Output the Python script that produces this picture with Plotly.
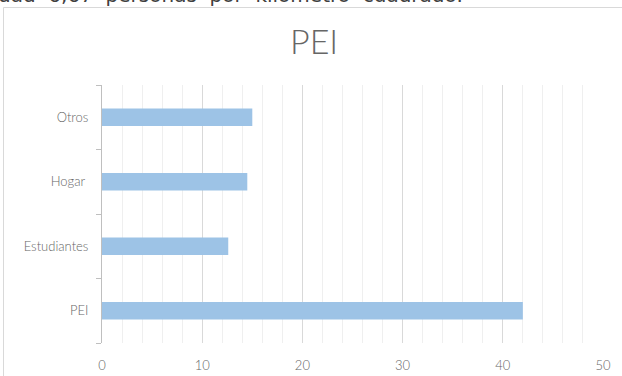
import plotly.graph_objects as go

# Categories (bottom to top) and their values
categories = ["PEI", "Estudiantes", "Hogar ", "Otros"]
values = [42.0, 12.6, 14.5, 15.0]
x_ticks = [0, 10, 20, 30, 40, 50]
title_text = "PEI"
header_text = "dad  6,67  personas  por  kilómetro  cuadrado."

W, H = 622, 376
M_L, M_R, M_T, M_B = 102, 19, 85, 33
PW, PH = W - M_L - M_R, H - M_T - M_B


def px_x(p):
    return (p - M_L) / PW


def px_y(p):
    return 1 - (p - M_T) / PH


FONT = "Lato, 'Open Sans', sans-serif"
TXT = "#666666"
FRAME = "#d9d9d9"

fig = go.Figure(
    go.Bar(
        x=values,
        y=categories,
        orientation="h",
        width=0.27,
        marker=dict(color="#9DC3E6", line=dict(width=0)),
        hoverinfo="x+y",
    )
)

fig.update_layout(
    width=W,
    height=H,
    margin=dict(l=M_L, r=M_R, t=M_T, b=M_B, autoexpand=False),
    paper_bgcolor="white",
    plot_bgcolor="white",
    showlegend=False,
    font=dict(family=FONT, color=TXT, size=13),
    xaxis=dict(
        range=[0, 50],
        tickvals=x_ticks,
        ticktext=[str(v) for v in x_ticks],
        showgrid=True,
        gridcolor="#d9d9d9",
        gridwidth=1,
        minor=dict(dtick=2, showgrid=True, gridcolor="#efefef", gridwidth=1),
        zeroline=False,
        showline=False,
        ticks="",
        ticklabelstandoff=13,
        tickfont=dict(size=13, color=TXT, weight=300),
        automargin=False,
        fixedrange=True,
    ),
    yaxis=dict(
        categoryorder="array",
        categoryarray=categories,
        range=[-0.5, 3.5],
        showgrid=False,
        zeroline=False,
        showline=True,
        linecolor="#bfbfbf",
        linewidth=1,
        ticks="outside",
        tickson="boundaries",
        ticklen=5,
        tickcolor="#bfbfbf",
        ticklabelstandoff=10,
        tickfont=dict(size=13, color=TXT, weight=300),
        automargin=False,
        fixedrange=True,
    ),
    shapes=[
        # chart frame: top and left edges (the rest runs past the page)
        dict(
            type="line",
            xref="paper",
            yref="paper",
            x0=px_x(3.5),
            x1=px_x(W + 10),
            y0=px_y(7.5),
            y1=px_y(7.5),
            line=dict(color=FRAME, width=1),
            layer="below",
        ),
        dict(
            type="line",
            xref="paper",
            yref="paper",
            x0=px_x(3.5),
            x1=px_x(3.5),
            y0=px_y(7.5),
            y1=px_y(H + 10),
            line=dict(color=FRAME, width=1),
            layer="below",
        ),
    ],
    annotations=[
        dict(
            text=title_text,
            xref="paper",
            yref="paper",
            x=px_x(314),
            y=px_y(41),
            xanchor="center",
            yanchor="middle",
            showarrow=False,
            font=dict(family=FONT, size=34, color=TXT, weight=300),
        ),
        dict(
            text=header_text,
            xref="paper",
            yref="paper",
            x=px_x(-4),
            y=px_y(9),
            xanchor="left",
            yanchor="bottom",
            showarrow=False,
            font=dict(family="DejaVu Sans, sans-serif", size=20, color="#404040"),
        ),
    ],
)

fig.write_html("out.html")
